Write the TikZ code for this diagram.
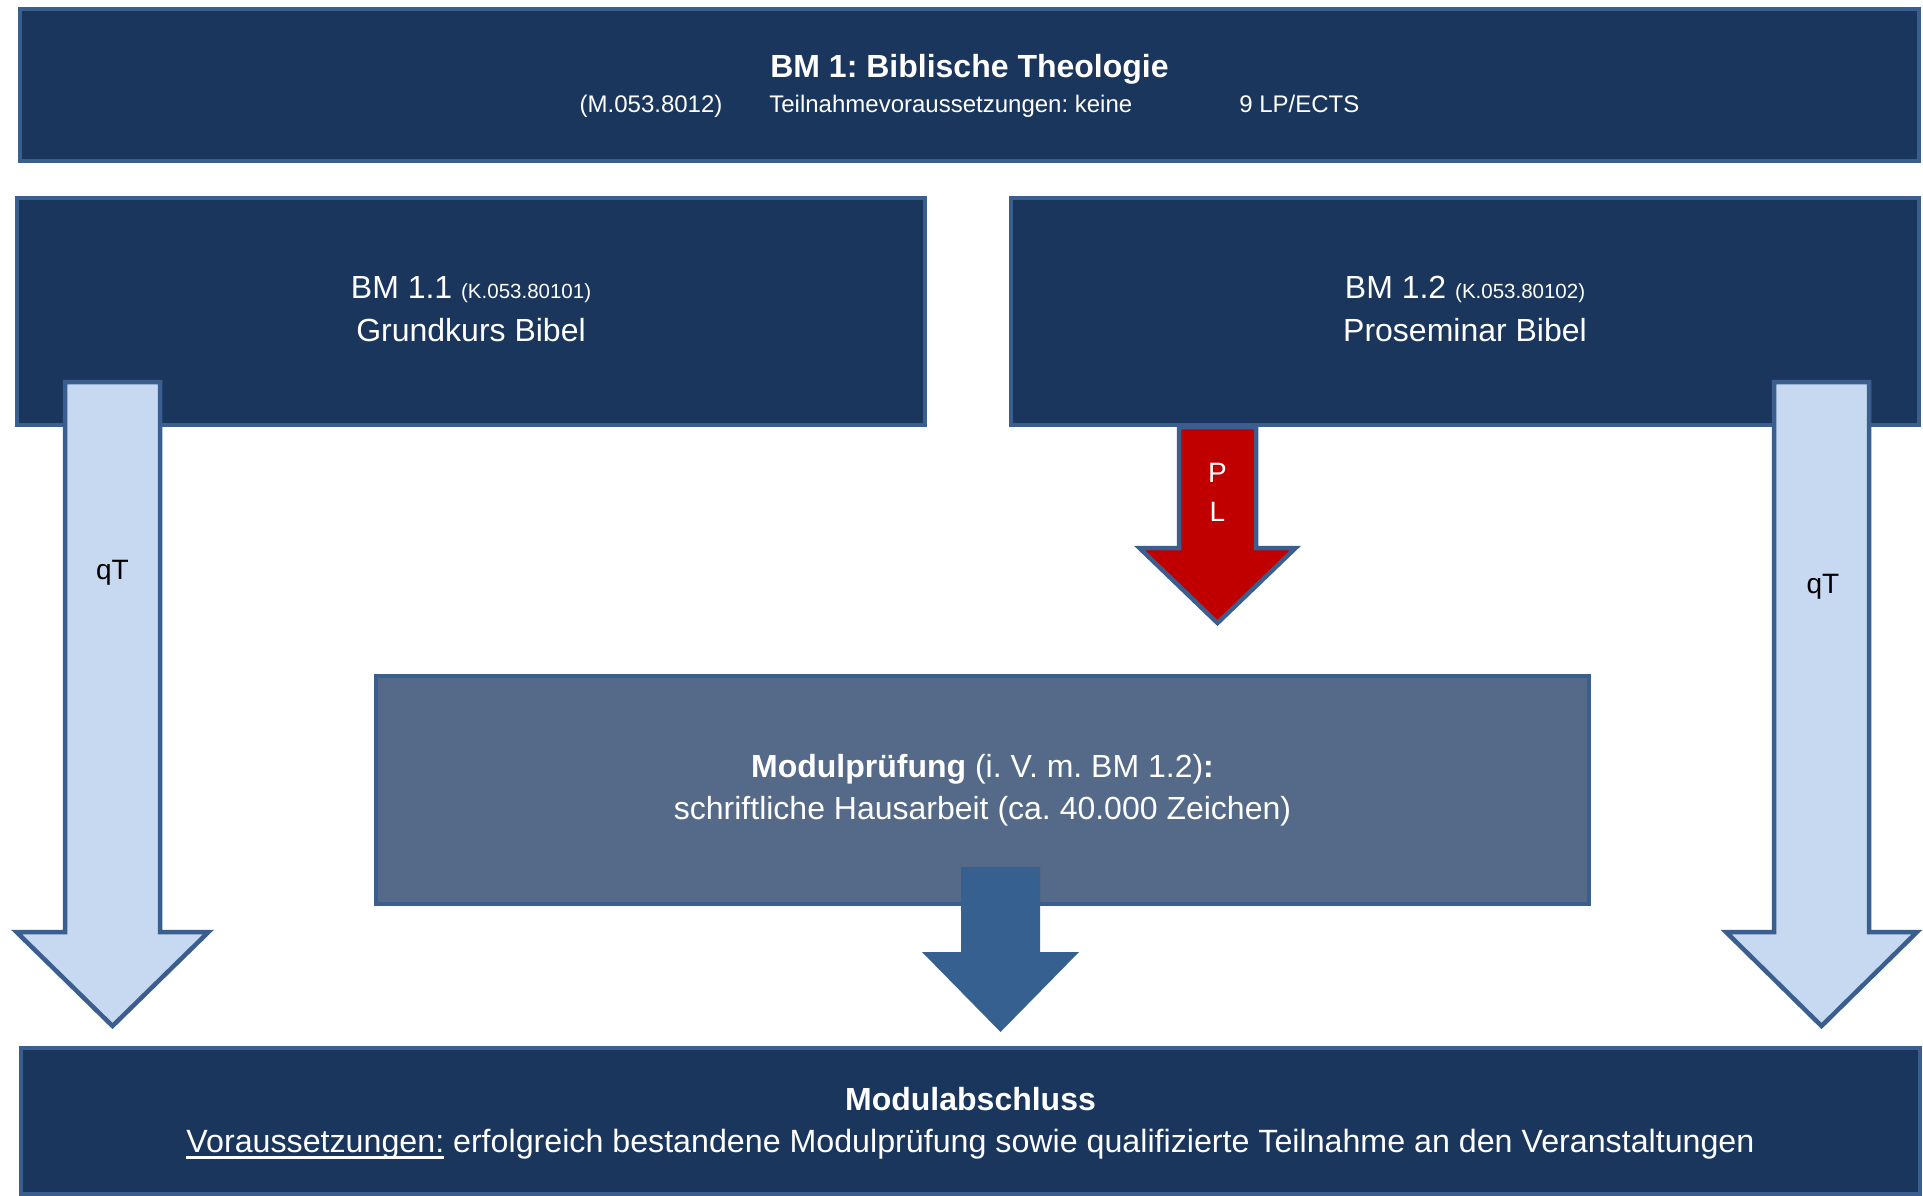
\documentclass[tikz,border=0pt]{standalone}
\usepackage{fontspec}
\setmainfont{Liberation Sans}
\frenchspacing
\definecolor{navy}{HTML}{1A365D}
\definecolor{bordc}{HTML}{3A5F8E}
\definecolor{mpfill}{HTML}{546A88}
\definecolor{lightarr}{HTML}{C6D9F1}
\definecolor{midarr}{HTML}{36608F}
\definecolor{redarr}{HTML}{C00000}
\newcommand{\ulx}[1]{\setbox0\hbox{#1}\rlap{\rule[-6.5pt]{\wd0}{2.2pt}}\box0\relax}
\newcommand{\fs}[1]{\fontsize{#1}{#1}\selectfont}
\tikzset{
  boxnode/.style={draw=bordc, line width=4.5pt, fill=navy, inner sep=0pt, outer sep=0pt, anchor=north west, rectangle},
  txt/.style={text=white, inner sep=0pt, anchor=base},
  arrowshape/.style={draw=bordc, line width=4.5pt, line join=miter, miter limit=10},
}
% block arrow: cx, top, shaft width, head base, head width, tip
\newcommand{\blockarrow}[7]{%
  \path[#1] (#2-#4/2,#3) -- (#2+#4/2,#3) -- (#2+#4/2,#5) -- (#2+#6/2,#5) -- (#2,#7) -- (#2-#6/2,#5) -- (#2-#4/2,#5) -- cycle;}
\begin{document}
\begin{tikzpicture}[x=1pt,y=-1pt]
\useasboundingbox (0,0) rectangle (1923,1196);
\clip (0,0) rectangle (1923,1196);
\fill[white] (0,0) rectangle (1923,1196);
% boxes
\node[boxnode, minimum width=1899pt, minimum height=152pt] (top) at (20,9) {};
\node[boxnode, minimum width=908pt, minimum height=227pt] (bma) at (17,198) {};
\node[boxnode, minimum width=908pt, minimum height=227pt] (bmb) at (1011,198) {};
\node[boxnode, fill=mpfill, minimum width=1213pt, minimum height=228pt] (mp) at (376,676) {};
\node[boxnode, minimum width=1899pt, minimum height=146pt] (ab) at (21,1048) {};
% block arrows
\blockarrow{arrowshape, fill=lightarr}{112.5}{382}{95}{932}{192}{1026}
\blockarrow{arrowshape, fill=lightarr}{1821.5}{382}{95}{932}{191}{1026}
\blockarrow{arrowshape, fill=redarr}{1217.5}{427}{77}{548}{156}{623}
\blockarrow{fill=midarr}{1000.5}{867}{79}{952}{157}{1032}
% texts
\node[txt, font=\fs{32}\bfseries] (t1) at (969.5,78) {BM 1: Biblische Theologie};
\node[txt, font=\fs{24}] (t2) at (969.5,113) {(M.053.8012)\hspace{47pt}Teilnahmevoraussetzungen: keine\hspace{107pt}9 LP/ECTS};
\node[txt, font=\fs{32}] (a1) at (471,298) {BM 1.1 {\fs{20.5}(K.053.80101)}};
\node[txt, font=\fs{32}] (a2) at (471,341) {Grundkurs Bibel};
\node[txt, font=\fs{32}] (b1) at (1465,298) {BM 1.2 {\fs{20.5}(K.053.80102)}};
\node[txt, font=\fs{32}] (b2) at (1465,341) {Proseminar Bibel};
\node[txt, font=\fs{32}] (m1) at (982.5,777) {\textbf{Modulprüfung} (i. V. m. BM 1.2)\textbf{:}};
\node[txt, font=\fs{32}] (m2) at (982.5,819) {schriftliche Hausarbeit (ca. 40.000 Zeichen)};
\node[txt, font=\fs{32}\bfseries] (e1) at (970.5,1110) {Modulabschluss};
\node[txt, font=\fs{32.2}] (e2) at (970.5,1152) {\ulx{Voraussetzungen:} erfolgreich bestandene Modulprüfung sowie qualifizierte Teilnahme an den Veranstaltungen};
\node[txt, text=black, font=\fs{28}] (q1) at (112.5,579) {qT};
\node[txt, text=black, font=\fs{28}] (q2) at (1823,593) {qT};
\node[txt, font=\fs{28}] (p1) at (1217.5,482) {P};
\node[txt, font=\fs{28}] (p2) at (1217.5,521) {L};
\end{tikzpicture}
\end{document}
